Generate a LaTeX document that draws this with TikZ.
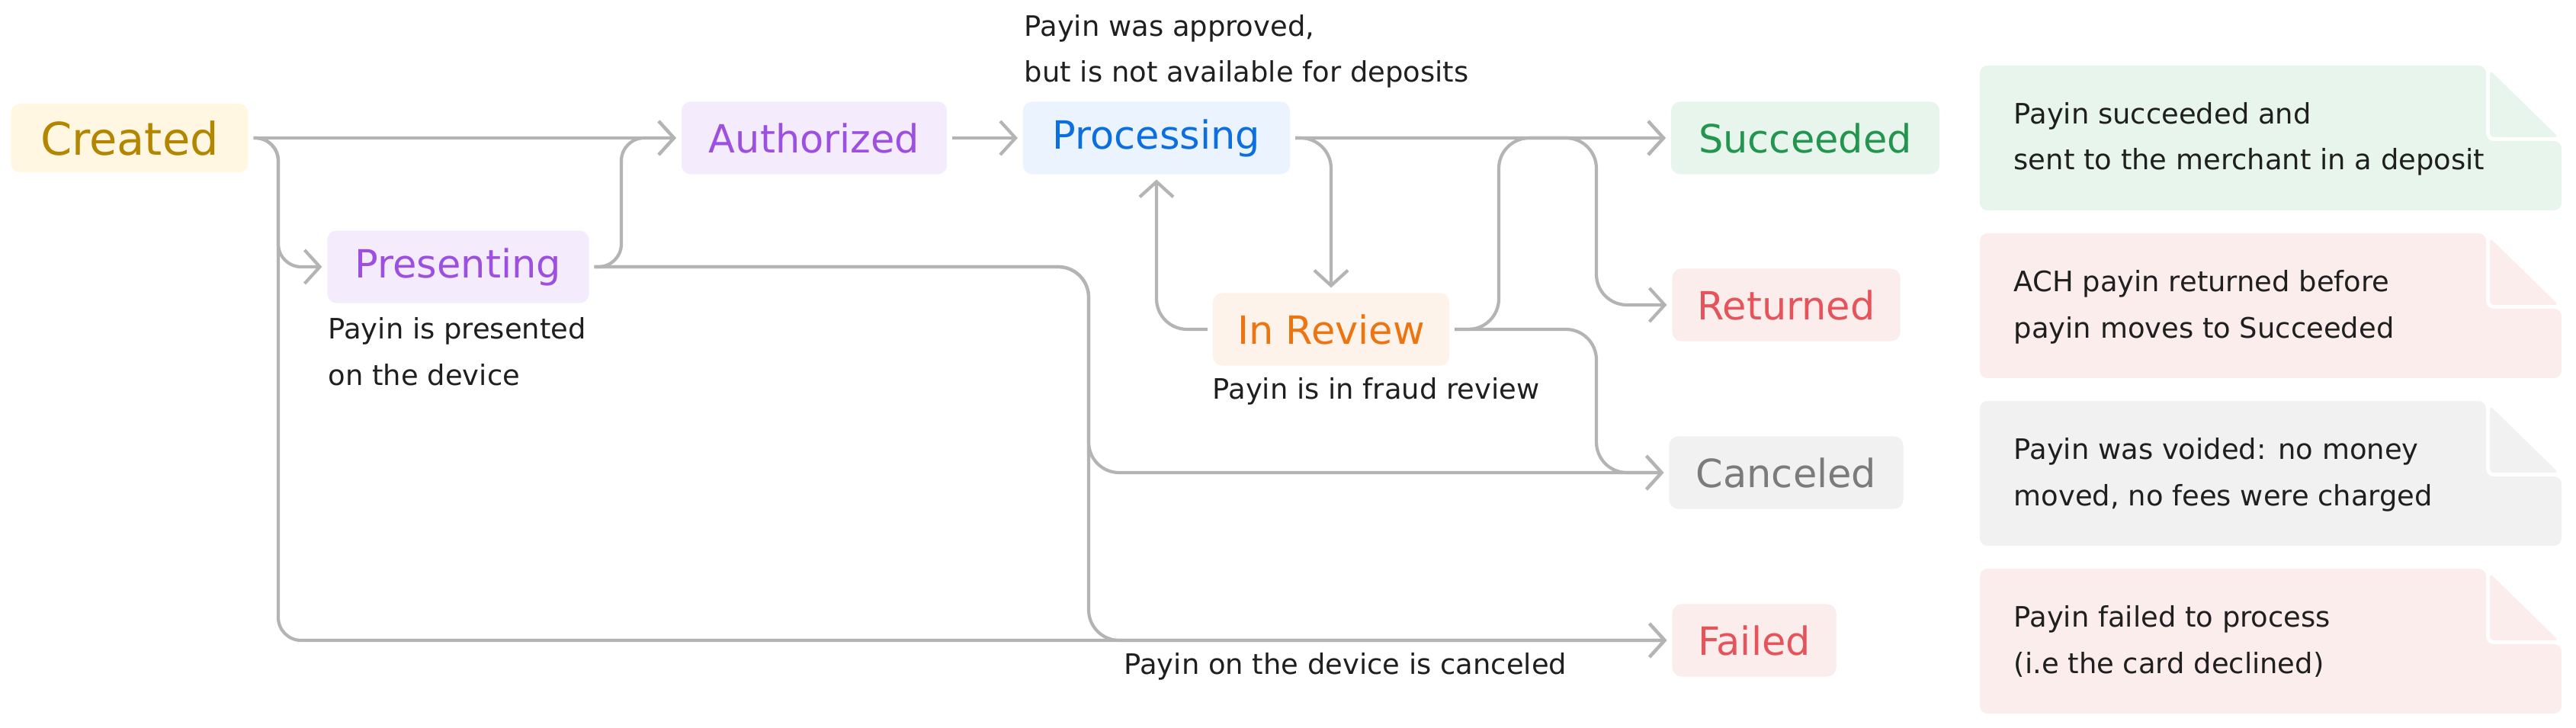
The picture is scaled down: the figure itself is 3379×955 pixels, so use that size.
\documentclass[tikz,border=0pt]{standalone}
\usepackage{fontspec}
\setmainfont{DejaVu Sans}
\usetikzlibrary{arrows.meta,positioning}

\definecolor{flowgray}{HTML}{B4B4B4}
\definecolor{inkblack}{HTML}{1F1F1F}
\definecolor{createdfill}{HTML}{FFF7E1}
\definecolor{createdtext}{HTML}{B38600}
\definecolor{purplefill}{HTML}{F4ECFC}
\definecolor{purpletext}{HTML}{9D50E0}
\definecolor{bluefill}{HTML}{EAF3FE}
\definecolor{bluetext}{HTML}{0B6FE0}
\definecolor{orangefill}{HTML}{FDF3EA}
\definecolor{orangetext}{HTML}{EC7511}
\definecolor{greenfill}{HTML}{E8F5EC}
\definecolor{greentext}{HTML}{23954F}
\definecolor{redfill}{HTML}{FCEDED}
\definecolor{redtext}{HTML}{E5545A}
\definecolor{grayfill}{HTML}{F1F1F1}
\definecolor{graytext}{HTML}{7B7B7B}

\tikzset{
  state/.style={rounded corners=0.12cm, minimum height=0.95cm, inner sep=0pt,
    outer sep=0.07cm, font=\fontsize{14.5}{17}\selectfont},
  flow/.style={draw=flowgray, line width=1.2pt, rounded corners=0.4cm},
  arr/.style={-{Straight Barb[length=0.2cm,width=0.44cm]}},
  desc/.style={font=\fontsize{10.5}{17.1}\selectfont, text=inkblack,
    inner sep=0pt, align=left},
}

\begin{document}
\begin{tikzpicture}[x=0.01cm, y=-0.01cm]
  \useasboundingbox (0,0) rectangle (3379,955);

  % States
  \node[state, fill=createdfill, text=createdtext, minimum width=3.11cm, minimum height=0.9cm,
    font=\fontsize{16.8}{19}\selectfont] (created) at (170,181) {Created};
  \node[state, fill=purplefill, text=purpletext, minimum width=3.43cm] (presenting) at (601,350) {Presenting};
  \node[state, fill=purplefill, text=purpletext, minimum width=3.48cm] (authorized) at (1068,181) {Authorized};
  \node[state, fill=bluefill, text=bluetext, minimum width=3.50cm] (processing) at (1517,181) {Processing};
  \node[state, fill=orangefill, text=orangetext, minimum width=3.10cm] (inreview) at (1746,432) {In Review};
  \node[state, fill=greenfill, text=greentext, minimum width=3.52cm] (succeeded) at (2368,181) {Succeeded};
  \node[state, fill=redfill, text=redtext, minimum width=2.99cm] (returned) at (2343,400) {Returned};
  \node[state, fill=grayfill, text=graytext, minimum width=3.07cm] (canceled) at (2343,620) {Canceled};
  \node[state, fill=redfill, text=redtext, minimum width=2.15cm] (failed) at (2301,840) {Failed};

  % Descriptions (base = last line)
  \node[desc, anchor=base west] (presentedlbl) at (430,505) {Payin is presented\\on the device};
  \node[desc, anchor=base west] (approvedlbl) at (1343,108) {Payin was approved,\\but is not available for deposits};
  \node[desc, anchor=base west] (fraudlbl) at (1590,524) {Payin is in fraud review};
  \node[desc, anchor=base west] (devicelbl) at (1474,884) {Payin on the device is canceled};

  % Transitions
  \draw[flow, arr] (created.east) -- (created.east -| authorized.west);
  \draw[flow, arr, rounded corners=0.3cm] (created.east) -| (365,350) -- (presenting.west);
  \draw[flow, arr, rounded corners=0.3cm] (created.east) -| (365,840) -- (failed.west);
  \draw[flow, arr, rounded corners=0.3cm] (presenting.east) -| (815,181) -- (authorized.west);
  \draw[flow, arr] (presenting.east) -| (1428,620) -- (canceled.west);
  \draw[flow, arr] (presenting.east) -| (1428,840) -- (failed.west);
  \draw[flow, arr] (authorized.east) -- (processing.west);
  \draw[flow, arr] (processing.east) -| (inreview.north);
  \draw[flow, arr] (inreview.west) -| (processing.south);
  \draw[flow, arr] (processing.east) -- (succeeded.west);
  \draw[flow, arr] (processing.east) -| (2094,400) -- (returned.west);
  \draw[flow, arr] (inreview.east) -| (1966,181) -- (succeeded.west);
  \draw[flow, arr] (inreview.east) -| (2094,620) -- (canceled.west);

  % Notes
  \foreach \y/\fillc/\nm/\txt in {
      86/greenfill/succnote/{Payin succeeded and\\sent to the merchant in a deposit},
      306/redfill/retnote/{ACH payin returned before\\payin moves to Succeeded},
      526/grayfill/cancnote/{Payin was voided: no money\\moved, no fees were charged},
      746/redfill/failnote/{Payin failed to process\\(i.e the card declined)}} {
    \fill[\fillc, rounded corners=0.1cm] (2597,\y) -- (3261,\y) -- (3261,\y+99)
      -- (3360,\y+99) -- (3360,\y+190) -- (2597,\y+190) -- cycle;
    \fill[\fillc, rounded corners=0.05cm] (3266,\y+6) -- (3266,\y+94) -- (3356,\y+94) -- cycle;
    \node[desc, anchor=base west] (\nm) at (2641,\y+137) {\txt};
  }
\end{tikzpicture}
\end{document}
